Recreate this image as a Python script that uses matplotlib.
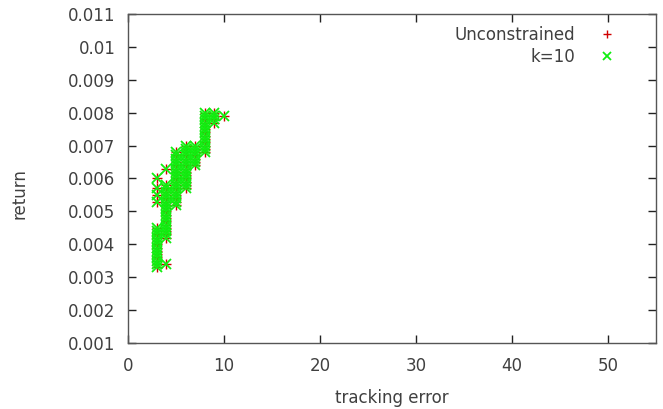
import matplotlib.pyplot as plt

# tracking error levels (integer) and the portfolio returns found at each level
te_levels = [3, 4, 5, 6, 7, 8, 9, 10]
ret_te3 = [0.0033, 0.0034, 0.0035, 0.0036, 0.0037, 0.0038, 0.0039, 0.0040,
           0.0041, 0.0042, 0.0043, 0.0044, 0.0045, 0.0053, 0.0055, 0.0057, 0.0060]
ret_te4 = [0.0034, 0.0042, 0.0043, 0.0044, 0.0045, 0.0046, 0.0047, 0.0048,
           0.0049, 0.0050, 0.0051, 0.0052, 0.0053, 0.0054, 0.0055, 0.0056,
           0.0057, 0.0058, 0.0063]
ret_te5 = [0.0052, 0.0053, 0.0054, 0.0055, 0.0056, 0.0057, 0.0058, 0.0059,
           0.0060, 0.0061, 0.0062, 0.0063, 0.0064, 0.0065, 0.0066, 0.0067, 0.0068]
ret_te6 = [0.0057, 0.0058, 0.0059, 0.0060, 0.0061, 0.0062, 0.0063, 0.0064,
           0.0065, 0.0066, 0.0067, 0.0068, 0.0069, 0.0070]
ret_te7 = [0.0064, 0.0065, 0.0066, 0.0067, 0.0068, 0.0069, 0.0070]
ret_te8 = [0.0068, 0.0069, 0.0070, 0.0071, 0.0072, 0.0073, 0.0074, 0.0075,
           0.0076, 0.0077, 0.0078, 0.0079, 0.0080]
ret_te9 = [0.0077, 0.0078, 0.0079, 0.0080]
ret_te10 = [0.0079]

ret_cols = [ret_te3, ret_te4, ret_te5, ret_te6, ret_te7, ret_te8, ret_te9, ret_te10]

unc_te = []
unc_ret = []
for te, col in zip(te_levels, ret_cols):
    unc_te += [te] * len(col)
    unc_ret += col

# the k=10 cardinality-constrained frontier lands on the same points
k10_te = list(unc_te)
k10_ret = list(unc_ret)

text_col = "#404040"
plt.rcParams["font.family"] = "DejaVu Sans"
plt.rcParams["font.size"] = 12

fig = plt.figure(figsize=(6.63, 4.09), dpi=100)
ax = fig.add_axes([0.193, 0.1614, 0.7964, 0.8044])

ax.plot(unc_te, unc_ret, linestyle="none", marker="+", markersize=7.5,
        markeredgewidth=1, color="#d00000", label="Unconstrained")
ax.plot(k10_te, k10_ret, linestyle="none", marker="x", markersize=6.5,
        markeredgewidth=1.3, color="#10ee10", label="k=10")

ax.set_xlim(0, 55)
ax.set_ylim(0.001, 0.011)
ax.set_xticks([0, 10, 20, 30, 40, 50])
ax.set_yticks([0.001, 0.002, 0.003, 0.004, 0.005, 0.006, 0.007, 0.008,
               0.009, 0.01, 0.011])
ax.set_yticklabels(["0.001", "0.002", "0.003", "0.004", "0.005", "0.006",
                    "0.007", "0.008", "0.009", "0.01", "0.011"])

ax.tick_params(direction="in", length=6, width=1, colors="#222222",
               labelcolor=text_col, top=True, right=True)
ax.tick_params(axis="y", pad=9)
ax.tick_params(axis="x", pad=10)
for s in ax.spines.values():
    s.set_color("#555555")
    s.set_linewidth(1)

ax.set_xlabel("tracking error", color=text_col, labelpad=10)
ax.set_ylabel("return", color=text_col)
ax.yaxis.set_label_coords(-0.189, 0.453)

leg = ax.legend(loc="upper right", bbox_to_anchor=(0.938, 0.988),
                frameon=False, markerfirst=False, borderpad=0, markerscale=0.8,
                handlelength=1.0, handletextpad=1.4, labelspacing=0.22)
for t in leg.get_texts():
    t.set_color(text_col)

fig.savefig("out.png", dpi=100)
